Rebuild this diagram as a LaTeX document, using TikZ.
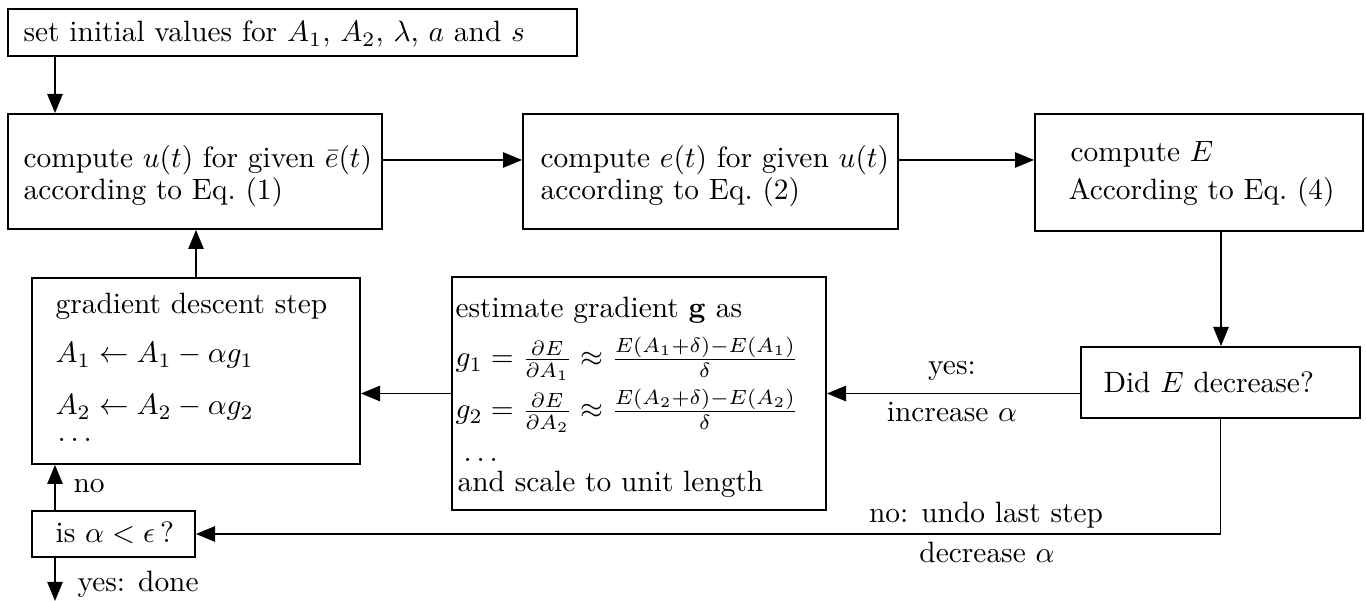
\documentclass[tikz,border=0pt]{standalone}
\usetikzlibrary{arrows.meta,fit}
\tikzset{
  box/.style={draw, line width=0.6pt, inner sep=0pt, rectangle},
  txt/.style={anchor=base west, inner sep=0pt},
  lbl/.style={anchor=base, inner sep=0pt},
  arr/.style={line width=0.6pt, -{Triangle[length=6.5pt,width=5.2pt]}},
}
\begin{document}
\begin{tikzpicture}[x=0.34pt,y=-0.34pt]
\useasboundingbox (0,0) rectangle (1366,601);
% boxes
\node[box, fit={(8,9) (577,56)}] (init) {};
\node[box, fit={(8,114) (382,229)}] (u) {};
\node[box, fit={(523,114) (898,229)}] (e) {};
\node[box, fit={(1035,114) (1363,231)}] (E) {};
\node[box, fit={(1081,347) (1360,418)}] (did) {};
\node[box, fit={(452,277) (826,510)}] (grad) {};
\node[box, fit={(32,278) (360,464)}] (desc) {};
\node[box, fit={(32,511) (195,557)}] (eps) {};
% texts
\node[txt] (t0) at (23,42) {set initial values for $A_1$, $A_2$, $\lambda$, $a$ and $s$};
\node[txt] (u1) at (23,168) {compute $u(t)$ for given $\bar e(t)$};
\node[txt] (u2) at (23,200) {according to Eq.~(1)};
\node[txt] (e1) at (540,168) {compute $e(t)$ for given $u(t)$};
\node[txt] (e2) at (540,200) {according to Eq.~(2)};
\node[txt] (E1) at (1070,162) {compute $E$};
\node[txt] (E2) at (1068,200) {According to Eq.~(4)};
\node[txt] (d1) at (1103,393) {Did $E$ decrease?};
\node[txt] (g1) at (455,318) {estimate gradient $\mathbf{g}$ as};
\node[txt] (g2) at (455,367) {$g_1=\frac{\partial E}{\partial A_1}\approx\frac{E(A_1+\delta)-E(A_1)}{\delta}$};
\node[txt] (g3) at (455,419) {$g_2=\frac{\partial E}{\partial A_2}\approx\frac{E(A_2+\delta)-E(A_2)}{\delta}$};
\node[txt] (g4) at (463,462) {$\ldots$};
\node[txt] (g5) at (457,492) {and scale to unit length};
\node[txt] (D1) at (55,314) {gradient descent step};
\node[txt] (D2) at (55,363) {$A_1 \leftarrow A_1 - \alpha g_1$};
\node[txt] (D3) at (55,415) {$A_2 \leftarrow A_2 - \alpha g_2$};
\node[txt] (D4) at (57,442) {$\ldots$};
\node[txt] (et) at (55,543) {is $\alpha<\epsilon\,$?};
\node[txt] (nol) at (73,493) {no};
\node[txt] (yesd) at (77,592) {yes: done};
\node[lbl] (yl) at (952,375) {yes:};
\node[lbl] (il) at (952,422) {increase $\alpha$};
\node[lbl] (nl) at (986,523) {no: undo last step};
\node[lbl] (dl) at (987,563) {decrease $\alpha$};
% helper coordinates
\coordinate (ax) at (55,0);
\coordinate (ay) at (0,160);
\coordinate (dx) at (1221,0);
\coordinate (yend) at (55,601);
% connectors
\draw[arr] (init.south -| ax) -- (u.north -| ax);
\draw[arr] (u.east |- ay) -- (e.west |- ay);
\draw[arr] (e.east |- ay) -- (E.west |- ay);
\draw[arr] (E.south -| dx) -- (did.north -| dx);
\draw[arr] (did.west |- grad.east) -- (grad.east);
\draw[arr] (grad.west) -- (desc.east |- grad.west);
\draw[arr] (desc.north) -- (desc.north |- u.south);
\draw[arr] (did.south) |- (eps.east);
\draw[arr] (eps.north -| ax) -- (desc.south -| ax);
\draw[arr] (eps.south -| ax) -- (yend);
\end{tikzpicture}
\end{document}
